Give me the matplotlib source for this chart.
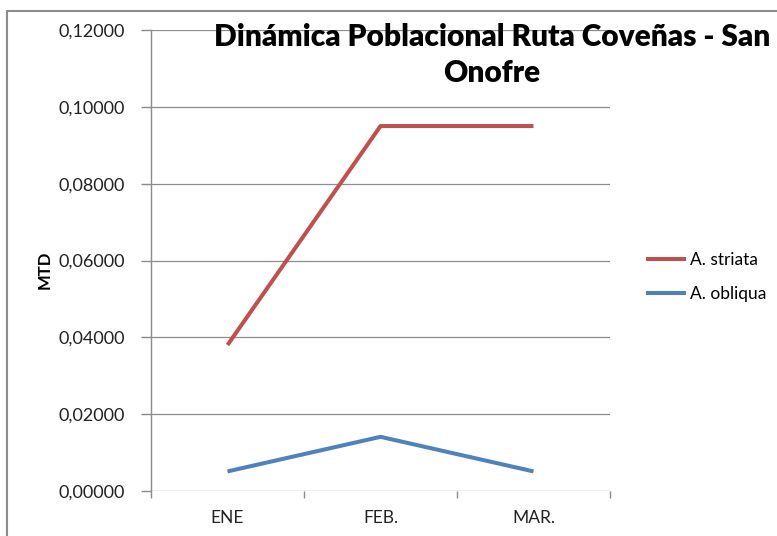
import matplotlib
matplotlib.use("Agg")
import matplotlib.pyplot as plt
from matplotlib.patches import Rectangle

categories = ["ENE", "FEB.", "MAR."]
striata = [0.0380, 0.0950, 0.0950]
obliqua = [0.0051, 0.0141, 0.0051]
yticks = [0.0, 0.02, 0.04, 0.06, 0.08, 0.10, 0.12]
ytick_labels = ["0,00000", "0,02000", "0,04000", "0,06000", "0,08000", "0,10000", "0,12000"]

plt.rcParams['font.family'] = ['Lato', 'DejaVu Sans']

W, H = 777, 536
fig = plt.figure(figsize=(W/100, H/100), dpi=100)
fig.patch.set_facecolor("white")

# chart border
fig.add_artist(Rectangle((7/W, -0.1), 1.2, 1 - 11/H + 0.1, transform=fig.transFigure,
                         fill=False, edgecolor="#8c8c8c", linewidth=1.5))

ax = fig.add_axes([151/W, 1 - 491/H, (610-151)/W, (491-30)/H])
x = list(range(len(categories)))
ax.plot(x, striata, color="#C0504D", lw=2.9, label="A. striata", solid_capstyle="butt")
ax.plot(x, obliqua, color="#4F81BD", lw=2.9, label="A. obliqua", solid_capstyle="butt")

ax.set_xlim(-0.5, 2.5)
ax.set_ylim(0, 0.12)
ax.set_yticks(yticks)
ax.set_yticklabels(ytick_labels, fontsize=13, color="#222222")
ax.set_xticks(x)
ax.set_xticklabels(categories, fontsize=12.5, color="#222222")
ax.tick_params(axis="x", length=0, pad=14)
ax.set_xticks([-0.5, 0.5, 1.5, 2.5], minor=True)
ax.tick_params(axis="x", which="minor", length=5, color="#8c8c8c", width=1)
ax.tick_params(axis="y", length=7, color="#8c8c8c", width=1, pad=12)
ax.grid(axis="y", color="#8c8c8c", linewidth=0.9)
ax.set_axisbelow(True)
for s in ["top", "right", "bottom"]:
    ax.spines[s].set_visible(False)
ax.spines["left"].set_color("#8c8c8c")
ax.spines["left"].set_linewidth(1)

fig.text(45/W, 1 - 270/H, "MTD", rotation=90, fontsize=12, fontweight="bold",
         ha="center", va="center")

fig.text(492/W, 1 - 55/H, "Dinámica Poblacional Ruta Coveñas - San\nOnofre",
         fontsize=21.5, fontweight="heavy", ha="center", va="center", linespacing=1.35)

leg = fig.legend(loc="center left", bbox_to_anchor=(630/W, 1 - 277/H), frameon=False,
                 fontsize=12.5, handlelength=2.3, handletextpad=0.25, labelspacing=1.0)

fig.savefig("out.png", dpi=100)
